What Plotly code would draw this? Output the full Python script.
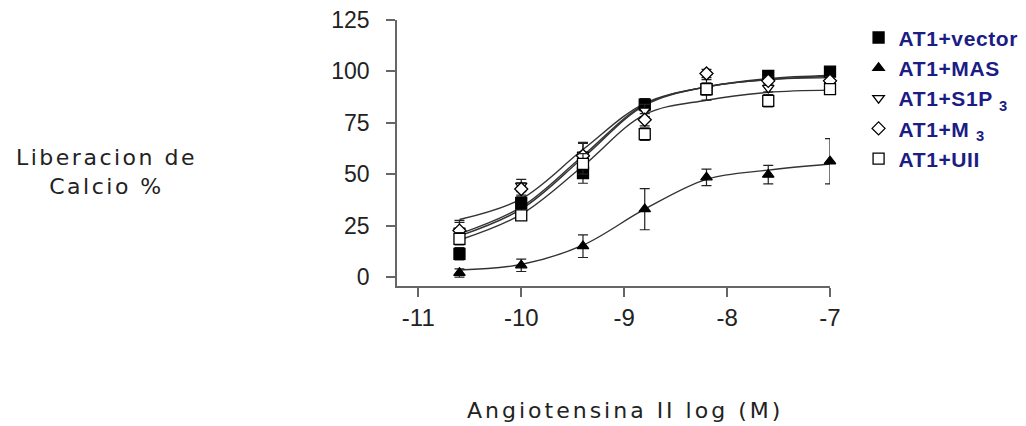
import plotly.graph_objects as go

# log[Ang II] (M)
log_conc = [-10.6, -10.0, -9.4, -8.8, -8.2, -7.6, -7.0]

series_names = ["AT1+vector", "AT1+MAS", "AT1+S1P <sub>3</sub>", "AT1+M <sub>3</sub>", "AT1+UII"]

# measured points (% calcium release) and error (SEM)
vector_y = [11.3, 36.0, 50.6, 83.8, 91.4, 97.8, 99.9]
vector_err = [3, 3, 5, 3, 2, 2, 2]
mas_y = [2.0, 5.7, 15.0, 33.0, 48.5, 49.8, 56.3]
mas_err = [2, 3, 5.5, 10, 4, 4.5, 11]
s1p3_y = [22.6, 44.5, 59.5, 81.0, 91.0, 92.0, 94.0]
s1p3_err = [5, 3, 6, 3, 5, 2, 2]
m3_y = [22.6, 42.8, 59.0, 76.5, 99.0, 95.4, 95.4]
m3_err = [4, 3, 6, 3, 2, 2, 2]
uii_y = [18.6, 30.0, 55.0, 69.5, 91.4, 85.7, 91.4]
uii_err = [3, 2, 5, 3, 3, 3, 2]

# fitted curves at the same concentrations
vector_fit = [28.0, 38.0, 62.0, 84.5, 92.5, 96.5, 98.0]
mas_fit = [3.4, 6.1, 15.5, 33.0, 47.5, 52.0, 55.0]
s1p3_fit = [21.0, 34.0, 59.0, 84.0, 92.5, 96.0, 97.5]
m3_fit = [20.0, 33.0, 58.0, 83.5, 92.5, 96.0, 97.0]
uii_fit = [18.0, 30.5, 54.0, 79.0, 86.0, 89.8, 90.9]

y_ticks = [0, 25, 50, 75, 100, 125]
x_ticks = [-11, -10, -9, -8, -7]

ys = [vector_y, mas_y, s1p3_y, m3_y, uii_y]
errs = [vector_err, mas_err, s1p3_err, m3_err, uii_err]
fits = [vector_fit, mas_fit, s1p3_fit, m3_fit, uii_fit]
symbols = ["square", "triangle-up", "triangle-down", "diamond", "square"]
fills = ["black", "black", "white", "white", "white"]
sizes = [11, 10, 10, 10, 11]

fig = go.Figure()

for f in fits:
    fig.add_trace(go.Scatter(
        x=log_conc, y=f, mode="lines", showlegend=False, hoverinfo="skip",
        line=dict(color="#333333", width=1.4, shape="spline", smoothing=1.0),
        cliponaxis=False,
    ))

for name, y, e, sym, fc, sz in zip(series_names, ys, errs, symbols, fills, sizes):
    fig.add_trace(go.Scatter(
        x=log_conc, y=y, mode="markers",
        name='<span style="letter-spacing:0.6px">' + name + '</span>',
        marker=dict(symbol=sym, size=sz, color=fc, line=dict(color="black", width=1.3)),
        error_y=dict(type="data", array=e, visible=True, color="#222222", thickness=1.2, width=5),
        cliponaxis=False,
    ))

# page body has an 8px margin, so the plot area is shifted back by 8px
fig.update_layout(
    width=1026, height=426,
    paper_bgcolor="white", plot_bgcolor="white",
    margin=dict(l=389, r=204, t=12, b=148, autoexpand=False),
    font=dict(family="Liberation Sans, Arial, sans-serif", color="#222222"),
    legend=dict(
        x=1.066, y=1.01, xanchor="left", yanchor="top",
        font=dict(size=21, color="#1c1c85", family="Liberation Sans, Arial, sans-serif", weight="bold"),
        bgcolor="rgba(0,0,0,0)", itemwidth=30, tracegroupgap=0,
    ),
    showlegend=True,
)

fig.update_xaxes(
    range=[-11.207, -7.0], tickvals=x_ticks, ticktext=[str(v) for v in x_ticks],
    showline=True, linecolor="#666666", linewidth=1.5, mirror=False,
    ticks="outside", ticklen=9, tickwidth=1.5, tickcolor="#666666",
    showgrid=False, zeroline=False, tickfont=dict(size=24, color="#222222"),
    automargin=False, ticklabeloverflow="allow",
)
fig.update_yaxes(
    range=[-4.36, 125], tickvals=y_ticks, ticktext=[str(v) for v in y_ticks],
    showline=True, linecolor="#666666", linewidth=1.5, mirror=False,
    ticks="outside", ticklen=9, tickwidth=1.5, tickcolor="#666666",
    showgrid=False, zeroline=False, tickfont=dict(size=23, color="#222222"),
    ticklabelstandoff=12, automargin=False, ticklabeloverflow="allow",
)

fig.add_annotation(
    text='<span style="letter-spacing:2.5px">Liberacion de<br>Calcio %</span>',
    xref="paper", yref="paper", x=-0.672, y=0.429, showarrow=False,
    xanchor="center", yanchor="middle", align="center",
    font=dict(family="DejaVu Sans, sans-serif", size=22, color="#222222"),
)
fig.add_annotation(
    text='<span style="letter-spacing:3px">Angiotensina II log (M)</span>',
    xref="paper", yref="paper", x=0.527, y=-0.468, showarrow=False,
    xanchor="center", yanchor="middle",
    font=dict(family="DejaVu Sans, sans-serif", size=22, color="#222222"),
)

fig.write_html("out.html")
